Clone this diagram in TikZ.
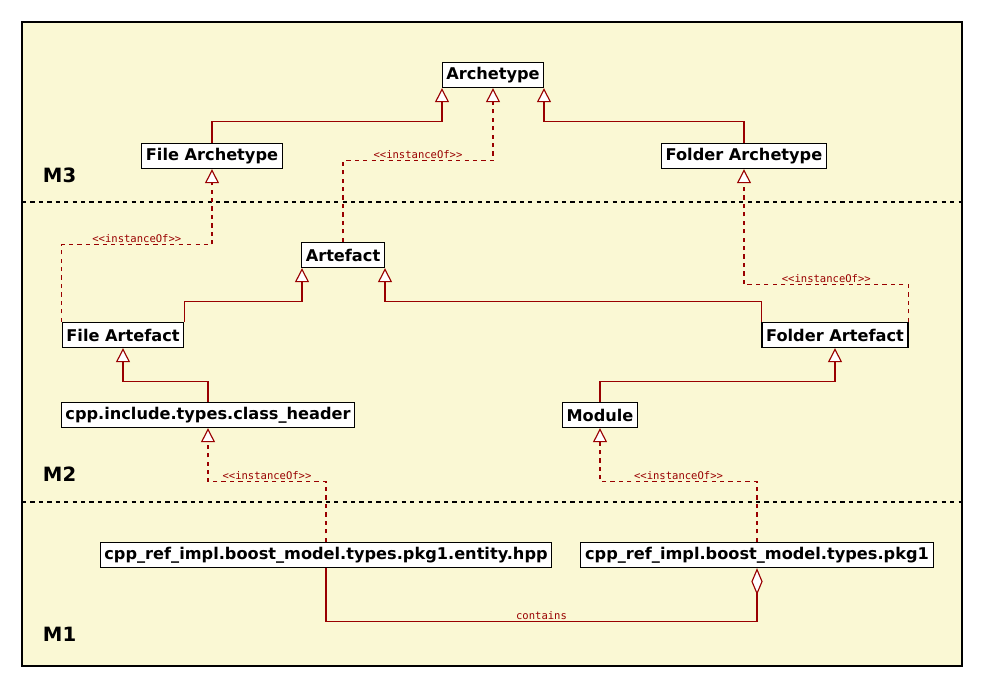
\documentclass[tikz,border=0pt]{standalone}
\usepackage{fontspec}
\setmainfont{DejaVu Sans}
\setmonofont{DejaVu Sans Mono}
\usetikzlibrary{arrows.meta}
\definecolor{paper}{HTML}{FAF8D4}
\definecolor{wire}{HTML}{990000}

\tikzset{
    box/.style={draw=black, thick, fill=white, minimum height=0.63cm, inner xsep=3pt,
        inner ysep=0pt, font=\fontsize{11.5}{13}\selectfont\bfseries},
    level/.style={font=\fontsize{14}{16}\selectfont\bfseries, anchor=west},
    inherit/.style={draw=wire, thick, -{Triangle[open, fill=white, width=10pt, length=10pt]}},
    instance/.style={inherit, dashed},
    stereo/.style={text=wire, font=\ttfamily\fontsize{7.5}{9}\selectfont, inner sep=1pt},
    aggregate/.style={draw=wire, thick, -{Diamond[open, fill=white, width=8pt, length=19pt]}}
}

\begin{document}
\begin{tikzpicture}[x=0.025cm, y=-0.025cm]
    \useasboundingbox (0,0) rectangle (983,683);
    \draw[thick, fill=paper] (22,22) rectangle (962,666);
    \draw[dashed, thick] (22,202) -- (962,202);
    \draw[dashed, thick] (22,502) -- (962,502);

    \node[level] (m3) at (38,175) {M3};
    \node[level] (m2) at (38,474) {M2};
    \node[level] (m1) at (38,634) {M1};

    % M3
    \node[box] (archetype) at (493,75) {Archetype};
    \node[box] (filearch) at (212,156) {File Archetype};
    \node[box] (folderarch) at (744,156) {Folder Archetype};

    % M2
    \node[box] (artefact) at (343,255) {Artefact};
    \node[box] (fileart) at (123,335) {File Artefact};
    \node[box] (folderart) at (835,335) {Folder Artefact};
    \node[box] (header) at (208,415) {cpp.include.types.class\_header};
    \node[box] (module) at (600,415) {Module};

    % M1
    \node[box] (hpp) at (326,555) {cpp\_ref\_impl.boost\_model.types.pkg1.entity.hpp};
    \node[box] (pkg) at (757,555) {cpp\_ref\_impl.boost\_model.types.pkg1};

    % generalisation
    \draw[inherit] (filearch.north) -- ++(0,-21) -| ([xshift=-51*0.025cm]archetype.south);
    \draw[inherit] (folderarch.north) -- ++(0,-21) -| ([xshift=51*0.025cm]archetype.south);
    \draw[inherit] (fileart.north east) -- ++(0,-20) -| ([xshift=-41*0.025cm]artefact.south);
    \draw[inherit] (folderart.north west) -- ++(0,-20) -| ([xshift=42*0.025cm]artefact.south);
    \draw[inherit] (header.north) -- ++(0,-20) -| (fileart.south);
    \draw[inherit] (module.north) -- ++(0,-20) -| (folderart.south);

    % instanceOf
    \draw[instance] (artefact.north) -- ++(0,-81) -| node[stereo, pos=0.25, above] {<<instanceOf>>} (archetype.south);
    \draw[instance] (fileart.north west) -- ++(0,-77) -| node[stereo, pos=0.25, above] {<<instanceOf>>} (filearch.south);
    \draw[instance] (folderart.north east) -- ++(0,-37) -| node[stereo, pos=0.25, above] {<<instanceOf>>} (folderarch.south);
    \draw[instance] (hpp.north) -- ++(0,-60) -| node[stereo, pos=0.25, above] {<<instanceOf>>} (header.south);
    \draw[instance] (pkg.north) -- ++(0,-60) -| node[stereo, pos=0.25, above] {<<instanceOf>>} (module.south);

    % containment
    \draw[aggregate] (hpp.south) -- ++(0,53) -| node[stereo, pos=0.25, above] {contains} (pkg.south);
\end{tikzpicture}
\end{document}
